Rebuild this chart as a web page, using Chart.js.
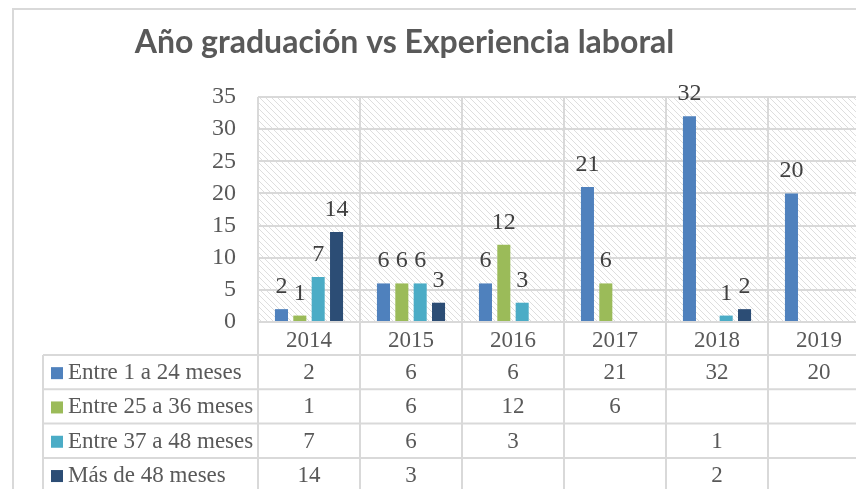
<!DOCTYPE html>
<html>
<head>
<meta charset="utf-8">
<script src="https://cdn.jsdelivr.net/npm/chart.js@4.4.0/dist/chart.umd.min.js"></script>
<style>
    html, body { margin: 0; padding: 0; background: #fff; overflow: hidden; width: 856px; height: 489px; }
    #wrap { width: 880px; height: 489px; }
</style>
</head>
<body>
<div id="wrap"><canvas id="myBarChart" width="880" height="489"></canvas></div>
<script>
// data
const years = ['2014', '2015', '2016', '2017', '2018', '2019'];
const seriesNames = ['Entre 1 a 24 meses', 'Entre 25 a 36 meses', 'Entre 37 a 48 meses', 'Más de 48 meses'];
const months1to24 = [2, 6, 6, 21, 32, 20];
const months25to36 = [1, 6, 12, 6, null, null];
const months37to48 = [7, 6, 3, null, 1, null];
const monthsOver48 = [14, 3, null, null, 2, null];
const seriesColors = ['#4f81bd', '#9bbb59', '#4bacc6', '#2c4d75'];
const yMax = 35;
const yStep = 5;

const serif = 'Liberation Serif';
const gridColor = '#d9d9d9';
const textColor = '#595959';

// hatch pattern for the plot area
function makeHatch() {
    const c = document.createElement('canvas');
    c.width = 6;
    c.height = 6;
    const g = c.getContext('2d');
    g.fillStyle = '#fff';
    g.fillRect(0, 0, 6, 6);
    g.strokeStyle = '#dedede';
    g.lineWidth = 1;
    g.beginPath();
    g.moveTo(-1, -1); g.lineTo(7, 7);
    g.moveTo(-1, 5); g.lineTo(1, 7);
    g.moveTo(5, -1); g.lineTo(7, 1);
    g.stroke();
    return g.createPattern(c, 'repeat');
}

const backgroundPlugin = {
    id: 'background',
    beforeDraw(chart) {
        const ctx = chart.ctx;
        const area = chart.chartArea;
        ctx.save();
        ctx.fillStyle = '#fff';
        ctx.fillRect(0, 0, chart.width, chart.height);
        ctx.strokeStyle = gridColor;
        ctx.lineWidth = 2;
        ctx.strokeRect(13, 9, chart.width + 20, chart.height + 20);
        ctx.fillStyle = makeHatch();
        ctx.fillRect(area.left, area.top, area.right - area.left, area.bottom - area.top);
        ctx.restore();
    }
};

const valueLabelPlugin = {
    id: 'valueLabels',
    afterDatasetsDraw(chart) {
        const ctx = chart.ctx;
        ctx.save();
        ctx.font = `24px "${serif}"`;
        ctx.fillStyle = '#404040';
        ctx.textAlign = 'center';
        ctx.textBaseline = 'alphabetic';
        chart.data.datasets.forEach((ds, di) => {
            const meta = chart.getDatasetMeta(di);
            meta.data.forEach((bar, i) => {
                const v = ds.data[i];
                if (v === null || v === undefined) return;
                ctx.fillText(String(v), bar.x, bar.y - 16);
            });
        });
        ctx.restore();
    }
};

// data table under the plot, columns taken from the x scale
const dataTablePlugin = {
    id: 'dataTable',
    afterDraw(chart) {
        const ctx = chart.ctx;
        const x = chart.scales.x;
        const area = chart.chartArea;
        const colW = x.getPixelForValue(1) - x.getPixelForValue(0);
        const tableLeft = 43;
        const headerBottom = area.bottom + 33;
        const rowH = 34.3;
        ctx.save();
        ctx.strokeStyle = gridColor;
        ctx.lineWidth = 2;
        ctx.beginPath();
        for (let r = 0; r < seriesNames.length; r++) {
            const y = headerBottom + r * rowH;
            ctx.moveTo(tableLeft, y);
            ctx.lineTo(chart.width, y);
        }
        ctx.moveTo(tableLeft, headerBottom);
        ctx.lineTo(tableLeft, chart.height);
        for (let i = 0; i <= years.length; i++) {
            const bx = x.getPixelForValue(i) - colW / 2;
            ctx.moveTo(bx, area.bottom);
            ctx.lineTo(bx, chart.height);
        }
        ctx.stroke();

        ctx.font = `23px "${serif}"`;
        ctx.fillStyle = textColor;
        ctx.textBaseline = 'middle';
        chart.data.datasets.forEach((ds, di) => {
            const cy = headerBottom + di * rowH + rowH / 2 + 1;
            ctx.fillStyle = seriesColors[di];
            ctx.fillRect(51, cy - 6, 12, 12);
            ctx.fillStyle = textColor;
            ctx.textAlign = 'left';
            ctx.fillText(ds.label, 68, cy);
            ctx.textAlign = 'center';
            ds.data.forEach((v, i) => {
                if (v === null || v === undefined) return;
                ctx.fillText(String(v), x.getPixelForValue(i), cy);
            });
        });
        ctx.restore();
    }
};

const seriesData = [months1to24, months25to36, months37to48, monthsOver48];

const barChartData = {
    labels: years,
    datasets: seriesNames.map((name, i) => ({
        label: name,
        data: seriesData[i],
        backgroundColor: seriesColors[i],
        borderWidth: 0,
        categoryPercentage: 0.72,
        barPercentage: 0.71
    }))
};

const barChartConfig = {
    type: 'bar',
    data: barChartData,
    options: {
        responsive: false,
        animation: false,
        layout: {
            padding: { left: -61, right: 10, top: 0, bottom: 0 }
        },
        scales: {
            x: {
                grid: { color: gridColor, lineWidth: 2, drawTicks: false, offset: true },
                border: { color: gridColor, width: 2 },
                ticks: {
                    color: textColor,
                    font: { family: serif, size: 23 },
                    padding: 5,
                    maxRotation: 0
                },
                afterFit(scale) { scale.height = 167; }
            },
            y: {
                min: 0,
                max: yMax,
                grid: { color: gridColor, lineWidth: 2, drawTicks: false },
                border: { display: false },
                ticks: {
                    stepSize: yStep,
                    color: textColor,
                    font: { family: serif, size: 24 },
                    padding: 22
                },
                afterFit(scale) { scale.width = 319; }
            }
        },
        plugins: {
            legend: { display: false },
            tooltip: { enabled: false },
            title: {
                display: true,
                text: 'Año graduación vs Experiencia laboral',
                color: textColor,
                font: { family: 'Lato', size: 32, weight: 'bold' },
                padding: { top: 23, bottom: 35.6 }
            }
        }
    },
    plugins: [backgroundPlugin, valueLabelPlugin, dataTablePlugin]
};

new Chart(
    document.getElementById('myBarChart'),
    barChartConfig
);
</script>
</body>
</html>
